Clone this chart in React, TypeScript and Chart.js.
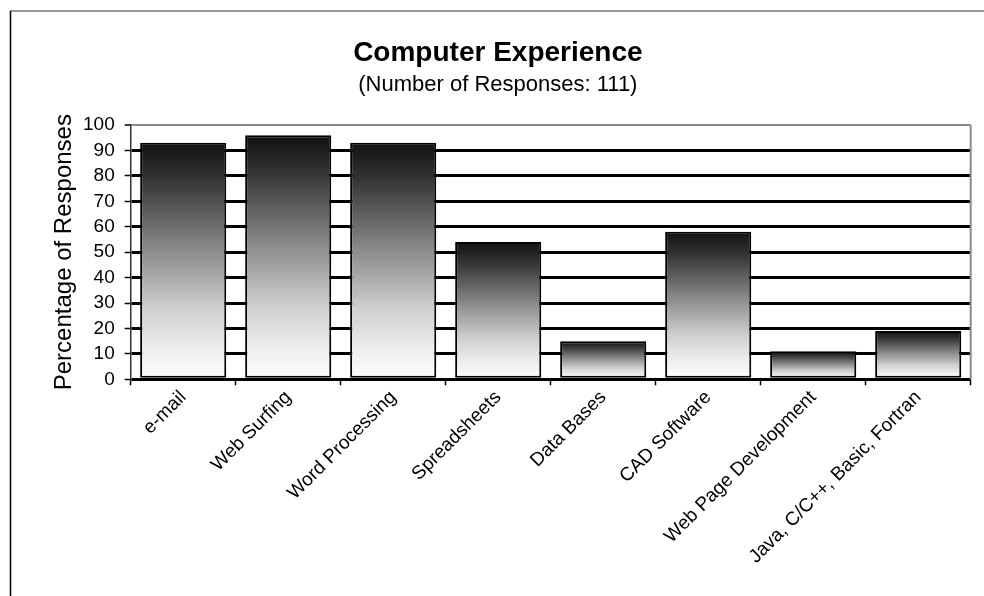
import React, { useEffect, useRef } from "react";
import { Chart, registerables } from "chart.js";

Chart.register(...registerables);

const categories = [
  "e-mail",
  "Web Surfing",
  "Word Processing",
  "Spreadsheets",
  "Data Bases",
  "CAD Software",
  "Web Page Development",
  "Java, C/C++, Basic, Fortran",
];
const responsesPct = [93, 96, 93, 54, 15, 58, 11, 19];
const yMin = 0;
const yMax = 100;
const yStep = 10;

const titleText = "Computer Experience";
const subtitleText = "(Number of Responses: 111)";
const yTitleText = "Percentage of Responses";

const FONT = "'Liberation Sans', Arial, Helvetica, sans-serif";

const W = 984;
const H = 596;
const PLOT_LEFT = 130.7;
const PLOT_RIGHT = 970.7;
const PLOT_BOTTOM = 379.3;
const PAD_LEFT = 25;

const framePlugin = {
  id: "framePlugin",
  beforeDatasetsDraw(chart: any) {
    const { ctx, chartArea } = chart;
    ctx.save();
    ctx.strokeStyle = "#8a8a8a";
    ctx.lineWidth = 2;
    ctx.beginPath();
    ctx.moveTo(chartArea.right, chartArea.top);
    ctx.lineTo(chartArea.right, chartArea.bottom);
    ctx.stroke();
    ctx.restore();
  },
  afterDraw(chart: any) {
    const { ctx } = chart;
    ctx.save();
    ctx.lineWidth = 1.5;
    ctx.strokeStyle = "#777";
    ctx.beginPath();
    ctx.moveTo(10, 11);
    ctx.lineTo(W, 11);
    ctx.stroke();
    ctx.strokeStyle = "#000";
    ctx.beginPath();
    ctx.moveTo(10.5, 11);
    ctx.lineTo(10.5, H);
    ctx.stroke();
    ctx.restore();
  },
};

export default function App() {
  const ref = useRef<HTMLCanvasElement | null>(null);

  useEffect(() => {
    if (!ref.current) return;
    const chart = new Chart(ref.current, {
      type: "bar",
      data: {
        labels: categories,
        datasets: [
          {
            data: responsesPct,
            backgroundColor: (c: any) => {
              const ch = c.chart;
              const ys = ch.scales && ch.scales.y;
              if (!ch.chartArea || !ys || c.type !== "data") return "#888";
              const top = ys.getPixelForValue(c.raw);
              const base = ys.getPixelForValue(0);
              if (!isFinite(top) || !isFinite(base) || base - top < 1) return "#888";
              const g = ch.ctx.createLinearGradient(0, top, 0, base);
              g.addColorStop(0, "#111111");
              g.addColorStop(0.15, "#333333");
              g.addColorStop(0.45, "#8a8a8a");
              g.addColorStop(0.7, "#cfcfcf");
              g.addColorStop(0.88, "#efefef");
              g.addColorStop(1, "#fdfdfd");
              return g;
            },
            borderColor: "#000",
            borderWidth: 2,
            borderSkipped: false,
            categoryPercentage: 1,
            barPercentage: 0.82,
          },
        ],
      },
      options: {
        animation: false,
        responsive: false,
        devicePixelRatio: 1,
        layout: {
          padding: { left: PAD_LEFT, right: W - PLOT_RIGHT, top: 0, bottom: 0 },
        },
        plugins: {
          legend: { display: false },
          tooltip: { enabled: false },
          title: {
            display: true,
            text: titleText,
            color: "#000",
            font: { family: FONT, size: 28, weight: "bold", lineHeight: 1.2 },
            padding: { top: 36, bottom: 0 },
          },
          subtitle: {
            display: true,
            text: subtitleText,
            color: "#000",
            font: { family: FONT, size: 22, weight: "normal", lineHeight: 1.2 },
            padding: { top: 2, bottom: 27 },
          },
        },
        scales: {
          x: {
            afterFit: (s: any) => {
              s.height = H - PLOT_BOTTOM;
            },
            grid: {
              display: true,
              drawOnChartArea: false,
              drawTicks: true,
              tickLength: 6,
              tickColor: "#000",
              tickWidth: 1.5,
              offset: true,
            },
            border: { display: true, color: "#000", width: 1.5 },
            ticks: {
              color: "#000",
              font: { family: FONT, size: 19 },
              minRotation: 45,
              maxRotation: 45,
              autoSkip: false,
              padding: 1,
            },
          },
          y: {
            min: yMin,
            max: yMax,
            afterFit: (s: any) => {
              s.width = PLOT_LEFT - PAD_LEFT;
            },
            ticks: {
              stepSize: yStep,
              autoSkip: false,
              color: "#000",
              font: { family: FONT, size: 19 },
              padding: 10,
            },
            grid: {
              color: (c: any) => (c.tick && c.tick.value === yMax ? "#8a8a8a" : "#000"),
              lineWidth: (c: any) => (c.tick && c.tick.value === yMax ? 2 : 3),
              drawTicks: true,
              tickLength: 6,
              tickColor: "#000",
              tickWidth: 1.5,
            },
            border: { display: true, color: "#333", width: 1.5 },
            title: {
              display: true,
              text: yTitleText,
              color: "#000",
              font: { family: FONT, size: 24, lineHeight: 1.2 },
              padding: { top: 25, bottom: 0 },
            },
          },
        },
      },
      plugins: [framePlugin],
    } as any);
    return () => chart.destroy();
  }, []);

  return (
    <div style={{ position: "fixed", left: 0, top: 0, width: W, height: H, background: "#fff" }}>
      <canvas ref={ref} width={W} height={H} style={{ display: "block", width: W, height: H }} />
    </div>
  );
}
